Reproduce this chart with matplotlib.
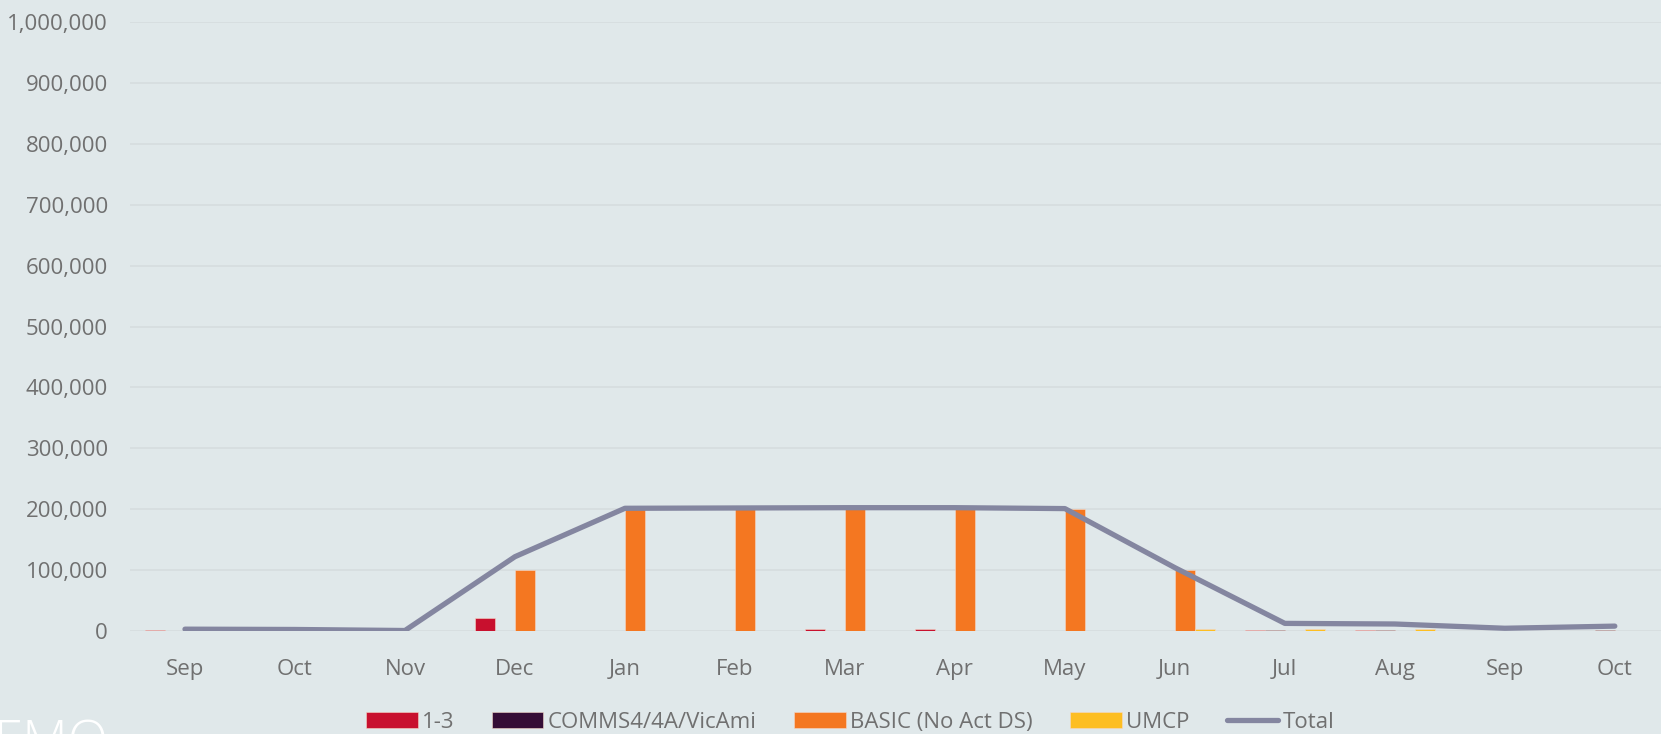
#!/usr/bin/env python3
"""Monthly volumes by category with total line."""

import matplotlib

matplotlib.use("Agg")
import matplotlib.pyplot as plt
import numpy as np
from matplotlib.ticker import FuncFormatter

months = ["Sep", "Oct", "Nov", "Dec", "Jan", "Feb", "Mar", "Apr", "May", "Jun", "Jul", "Aug", "Sep", "Oct"]
series_names = ["1-3", "COMMS4/4A/VicAmi", "BASIC (No Act DS)", "UMCP"]
vals_13 = [1500, 0, 0, 22000, 800, 800, 2500, 2500, 800, 800, 1500, 1500, 0, 0]
vals_comms = [0, 0, 0, 0, 0, 0, 0, 0, 0, 0, 1500, 1500, 0, 1800]
vals_basic = [0, 0, 0, 100000, 200000, 200000, 200000, 200000, 200000, 100000, 0, 0, 0, 0]
vals_umcp = [0, 0, 0, 0, 0, 0, 0, 0, 0, 3500, 3500, 3000, 0, 0]
total = [3000, 2500, 800, 122000, 201500, 202000, 202500, 202500, 201000, 104000, 12500, 11500, 4500, 8000]

colors = ["#c8102e", "#350d36", "#f47721", "#fdbe22"]
total_color = "#8486a0"
bg = "#e0e8ea"
text_color = "#707070"

plt.rcParams["font.family"] = ["Open Sans", "DejaVu Sans"]

fig = plt.figure(figsize=(16.61, 7.34), dpi=100, facecolor=bg)
ax = fig.add_axes([130 / 1661, 1 - 631 / 734, (1661 - 130) / 1661, (631 - 22) / 734])
ax.set_facecolor(bg)

x = np.arange(len(months))
width = 0.182
offsets = [-1.5, -0.5, 0.5, 1.5]
handles = []
for vals, name, color, off in zip([vals_13, vals_comms, vals_basic, vals_umcp], series_names, colors, offsets):
    h = ax.bar(x + off * width, vals, width, color=color, label=name, edgecolor="#f4d8c8", linewidth=0.4, zorder=2)
    handles.append(h)

(line,) = ax.plot(x, total, color=total_color, linewidth=3.8, solid_capstyle="round", label="Total", zorder=3)
handles.append(line)

ax.set_xlim(-0.5, 13.42)
ax.set_ylim(0, 1000000)
ax.set_yticks(np.arange(0, 1000001, 100000))
ax.yaxis.set_major_formatter(FuncFormatter(lambda v, _: f"{int(v):,}"))
ax.set_xticks(x)
ax.set_xticklabels(months)
ax.grid(axis="y", color="#d6dcdf", linewidth=1.2, zorder=0)
ax.set_axisbelow(True)
for s in ax.spines.values():
    s.set_visible(False)
ax.tick_params(axis="both", length=0, labelsize=16, labelcolor=text_color)
ax.tick_params(axis="x", pad=20)
ax.tick_params(axis="y", pad=16)

fig.legend(handles=handles, labels=series_names + ["Total"], loc="center", bbox_to_anchor=(0.512, 0.016),
           ncol=5, frameon=False, fontsize=16, labelcolor=text_color, handlelength=2.3, handleheight=0.7,
           handletextpad=0.2, columnspacing=1.7)

fig.text(-0.004, 0.022, "EMO", color="white", fontsize=38, ha="left", va="top", weight="light")

fig.savefig("out.png", dpi=100, facecolor=bg)
